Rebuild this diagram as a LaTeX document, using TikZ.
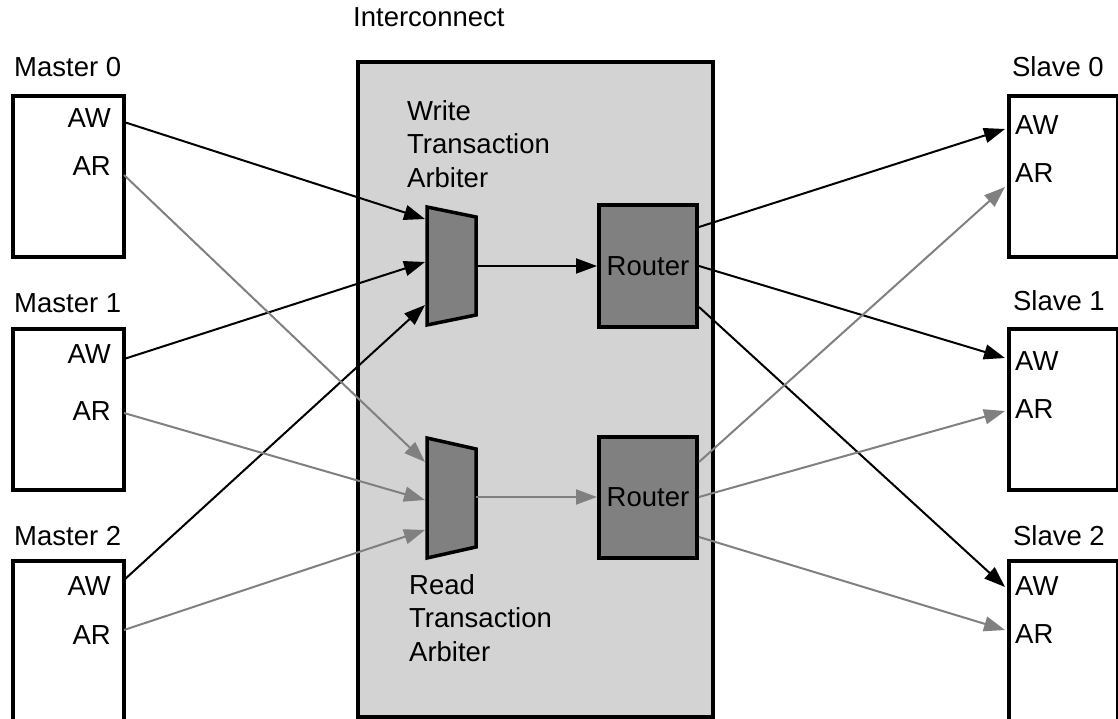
\documentclass[tikz,border=0pt]{standalone}
\usepackage{fontspec}
\setmainfont{Liberation Sans}
\usetikzlibrary{arrows.meta}
\definecolor{icgray}{RGB}{211,211,211}
\definecolor{muxgray}{RGB}{128,128,128}
\definecolor{wiregray}{RGB}{128,128,128}

\begin{document}
\begin{tikzpicture}[x=1pt,y=-1pt,
  every node/.style={font=\fontsize{27.5}{33.5}\selectfont,inner sep=0pt},
  unitbox/.style={draw,line width=4pt,fill=white,anchor=north west,minimum width=111pt,minimum height=161pt},
  slavebox/.style={unitbox,minimum width=109pt},
  router/.style={draw,line width=4pt,fill=muxgray,minimum width=98pt,minimum height=121pt},
  mux/.style={draw,line width=3.5pt,fill=muxgray,line join=miter},
  wline/.style={line width=2pt,-{Triangle[length=21pt,width=15pt]}},
  rline/.style={wline,color=wiregray}]
\useasboundingbox (0,0) rectangle (1118,719);

% interconnect
\node[draw,line width=4pt,fill=icgray,anchor=north west,minimum width=355pt,minimum height=655pt] (ic) at (356,60) {};
\node[anchor=base west] (iclbl) at (353,27) {Interconnect};

% masters
\node[unitbox] (m0) at (11,94) {};
\node[unitbox] (m1) at (11,327) {};
\node[unitbox] (m2) at (11,559) {};
\node[anchor=base west] (m0lbl) at (14,77) {Master 0};
\node[anchor=base west] (m1lbl) at (14,312) {Master 1};
\node[anchor=base west] (m2lbl) at (14,545) {Master 2};
\node[anchor=base east] (m0aw) at (111,128) {AW};
\node[anchor=base east] (m0ar) at (111,176) {AR};
\node[anchor=base east] (m1aw) at (111,363) {AW};
\node[anchor=base east] (m1ar) at (111,420) {AR};
\node[anchor=base east] (m2aw) at (111,595) {AW};
\node[anchor=base east] (m2ar) at (111,644) {AR};
\coordinate (m0w) at (124,122);
\coordinate (m0r) at (124,175);
\coordinate (m1w) at (124,359);
\coordinate (m1r) at (124,413);
\coordinate (m2w) at (124,580);
\coordinate (m2r) at (124,630);

% slaves
\node[slavebox] (s0) at (1007,94) {};
\node[slavebox] (s1) at (1007,327) {};
\node[slavebox] (s2) at (1007,559) {};
\node[anchor=base east] (s0lbl) at (1104,77) {Slave 0};
\node[anchor=base east] (s1lbl) at (1105,310) {Slave 1};
\node[anchor=base east] (s2lbl) at (1105,545) {Slave 2};
\node[anchor=base west] (s0aw) at (1015,135) {AW};
\node[anchor=base west] (s0ar) at (1015,183) {AR};
\node[anchor=base west] (s1aw) at (1015,370) {AW};
\node[anchor=base west] (s1ar) at (1015,418) {AR};
\node[anchor=base west] (s2aw) at (1015,595) {AW};
\node[anchor=base west] (s2ar) at (1015,643) {AR};
\coordinate (s0w) at (1005,129);
\coordinate (s0r) at (1005,187);
\coordinate (s1w) at (1005,358);
\coordinate (s1r) at (1005,411);
\coordinate (s2w) at (1005,587);
\coordinate (s2r) at (1005,630);

% arbiters
\draw[mux] (427,207) -- (476,217) -- (476,315) -- (427,325) -- cycle;
\draw[mux] (427,438) -- (476,449) -- (476,547) -- (427,558) -- cycle;
\coordinate (wa1) at (425,219);
\coordinate (wa2) at (425,262);
\coordinate (wa3) at (425,305);
\coordinate (waout) at (476,266);
\coordinate (ra1) at (425,462);
\coordinate (ra2) at (425,500);
\coordinate (ra3) at (425,530);
\coordinate (raout) at (476,497);
\node[anchor=north west,align=left] (walbl) at (407,100) {Write\\Transaction\\Arbiter};
\node[anchor=north west,align=left] (ralbl) at (409,574) {Read\\Transaction\\Arbiter};

% routers
\node[router] (wrt) at (648,266) {Router};
\node[router] (rrt) at (648,497) {Router};

% master -> arbiter
\draw[wline] (m0w) -- (wa1);
\draw[wline] (m1w) -- (wa2);
\draw[wline] (m2w) -- (wa3);
\draw[rline] (m0r) -- (ra1);
\draw[rline] (m1r) -- (ra2);
\draw[rline] (m2r) -- (ra3);

% arbiter -> router
\draw[wline] (waout) -- (wrt.west);
\draw[rline] (raout) -- (rrt.west);

% router -> slave
\draw[wline] ([yshift=39pt]wrt.east) -- (s0w);
\draw[wline] (wrt.east) -- (s1w);
\draw[wline] ([yshift=-41pt]wrt.east) -- (s2w);
\draw[rline] ([yshift=35pt]rrt.east) -- (s0r);
\draw[rline] (rrt.east) -- (s1r);
\draw[rline] ([yshift=-40pt]rrt.east) -- (s2r);
\end{tikzpicture}
\end{document}
